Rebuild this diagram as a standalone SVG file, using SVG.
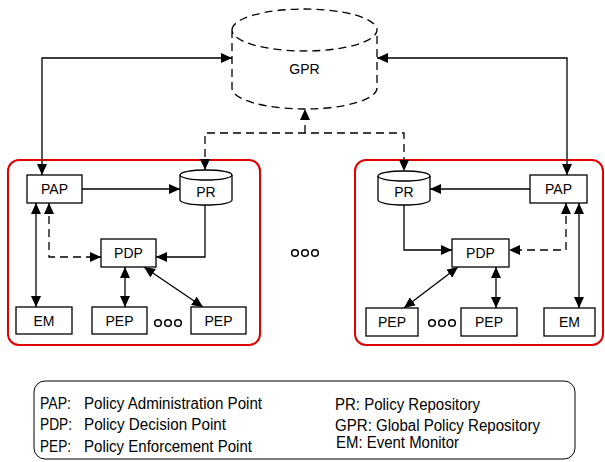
<svg xmlns="http://www.w3.org/2000/svg" width="605" height="462" viewBox="0 0 605 462">
  <style>
    .box { fill: #fff; stroke: #000; stroke-width: 1.3; }
    .domain { fill: none; stroke: #e00000; stroke-width: 2; }
    .lbl { font-family: "Liberation Sans", Arial, sans-serif; font-size: 14px; fill: #000; text-anchor: middle; }
    .leg { font-family: "Liberation Sans", Arial, sans-serif; font-size: 16px; fill: #000; }
    .ln { fill: none; stroke: #000; stroke-width: 1.3; }
    .dash { stroke-dasharray: 8 5; }
    .both { marker-start: url(#ah); marker-end: url(#ah); }
    .end { marker-end: url(#ah); }
    .dots circle { fill: none; stroke: #000; stroke-width: 1.5; }
  </style>
  <defs>
    <marker id="ah" markerUnits="userSpaceOnUse" markerWidth="12" markerHeight="10" refX="11" refY="5" orient="auto-start-reverse">
      <path d="M0,0 L11,5 L0,10 z" fill="#000"/>
    </marker>
  </defs>

  <rect width="605" height="462" fill="#fff"/>

  <!-- global policy repository (dashed cylinder) -->
  <g id="GPR">
    <path class="ln dash" d="M232,30 A72.5,21 0 0 1 377,30 A72.5,21 0 0 1 232,30 M232,30 L232,88 A72.5,21 0 0 0 377,88 L377,30"/>
    <text class="lbl" x="304.5" y="74">GPR</text>
  </g>

  <!-- policy domains -->
  <rect id="domain-left" class="domain" x="8" y="160" width="252" height="185" rx="11"/>
  <rect id="domain-right" class="domain" x="355" y="160" width="248" height="185" rx="11"/>

  <!-- connectors -->
  <g id="connectors">
    <path class="ln both" d="M42,175 L42,58 L232,58"/>
    <path class="ln both" d="M567,175 L567,58 L377,58"/>
    <path class="ln dash end" d="M305,133 L305,109"/>
    <path class="ln dash both" d="M205,170 L205,133 L404,133 L404,171"/>

    <path class="ln end" d="M82,189 L180,189"/>
    <path class="ln end" d="M205,205 L205,257 L156,257"/>
    <path class="ln both" d="M36,203 L36,307"/>
    <path class="ln dash both" d="M49,203 L49,257 L101,257"/>
    <path class="ln both" d="M125,267 L125,307"/>
    <path class="ln both" d="M144,267 L203,307"/>

    <path class="ln end" d="M530,189 L430,189"/>
    <path class="ln end" d="M404,205 L404,250 L452,250"/>
    <path class="ln dash both" d="M566,203 L566,250 L509,250"/>
    <path class="ln both" d="M579,203 L579,308"/>
    <path class="ln both" d="M496,267 L496,308"/>
    <path class="ln both" d="M458,267 L404,308"/>
  </g>

  <!-- left domain nodes -->
  <g id="PAP-1"><rect class="box" x="27" y="175" width="55" height="28"/><text class="lbl" x="54.5" y="194">PAP</text></g>
  <g id="PR-1">
    <path class="box" d="M180,175 L180,200 A26,5 0 0 0 232,200 L232,175 A26,5 0 0 0 180,175 z"/>
    <path class="ln" d="M180,175 A26,5 0 0 0 232,175"/>
    <text class="lbl" x="206" y="197">PR</text>
  </g>
  <g id="PDP-1"><rect class="box" x="101" y="239" width="55" height="28"/><text class="lbl" x="128.5" y="258">PDP</text></g>
  <g id="EM-1"><rect class="box" x="16" y="307" width="56" height="27"/><text class="lbl" x="44" y="326">EM</text></g>
  <g id="PEP-1a"><rect class="box" x="92" y="307" width="55" height="27"/><text class="lbl" x="119.5" y="326">PEP</text></g>
  <g id="PEP-1b"><rect class="box" x="191" y="307" width="55" height="27"/><text class="lbl" x="218.5" y="326">PEP</text></g>
  <g id="dots-1" class="dots"><circle cx="158" cy="323" r="3.3"/><circle cx="168" cy="323" r="3.3"/><circle cx="178" cy="323" r="3.3"/></g>

  <!-- between domains -->
  <g id="dots-mid" class="dots"><circle cx="295" cy="253" r="3.3"/><circle cx="305" cy="253" r="3.3"/><circle cx="315" cy="253" r="3.3"/></g>

  <!-- right domain nodes -->
  <g id="PR-2">
    <path class="box" d="M378,176 L378,200 A26,5 0 0 0 430,200 L430,176 A26,5 0 0 0 378,176 z"/>
    <path class="ln" d="M378,176 A26,5 0 0 0 430,176"/>
    <text class="lbl" x="404" y="197">PR</text>
  </g>
  <g id="PAP-2"><rect class="box" x="530" y="175" width="57" height="28"/><text class="lbl" x="558.5" y="194">PAP</text></g>
  <g id="PDP-2"><rect class="box" x="452" y="239" width="57" height="28"/><text class="lbl" x="480.5" y="258">PDP</text></g>
  <g id="PEP-2a"><rect class="box" x="366" y="308" width="52" height="28"/><text class="lbl" x="392" y="327">PEP</text></g>
  <g id="PEP-2b"><rect class="box" x="461" y="308" width="56" height="28"/><text class="lbl" x="489" y="327">PEP</text></g>
  <g id="EM-2"><rect class="box" x="544" y="308" width="51" height="28"/><text class="lbl" x="569.5" y="327">EM</text></g>
  <g id="dots-2" class="dots"><circle cx="432" cy="323" r="3.3"/><circle cx="442" cy="323" r="3.3"/><circle cx="452" cy="323" r="3.3"/></g>

  <!-- legend -->
  <g id="legend">
    <rect x="34" y="381" width="541" height="78" rx="11" fill="#fff" stroke="#000" stroke-width="1"/>
    <text class="leg" x="40" y="409" textLength="31" lengthAdjust="spacingAndGlyphs">PAP:</text>
    <text class="leg" x="84" y="409" textLength="178" lengthAdjust="spacingAndGlyphs">Policy Administration Point</text>
    <text class="leg" x="40" y="430" textLength="32" lengthAdjust="spacingAndGlyphs">PDP:</text>
    <text class="leg" x="84" y="430" textLength="142" lengthAdjust="spacingAndGlyphs">Policy Decision Point</text>
    <text class="leg" x="40" y="452" textLength="31" lengthAdjust="spacingAndGlyphs">PEP:</text>
    <text class="leg" x="84" y="452" textLength="168" lengthAdjust="spacingAndGlyphs">Policy Enforcement Point</text>
    <text class="leg" x="335" y="410" textLength="145" lengthAdjust="spacingAndGlyphs">PR: Policy Repository</text>
    <text class="leg" x="335" y="431" textLength="205" lengthAdjust="spacingAndGlyphs">GPR: Global Policy Repository</text>
    <text class="leg" x="336" y="448" textLength="123" lengthAdjust="spacingAndGlyphs">EM: Event Monitor</text>
  </g>
</svg>
